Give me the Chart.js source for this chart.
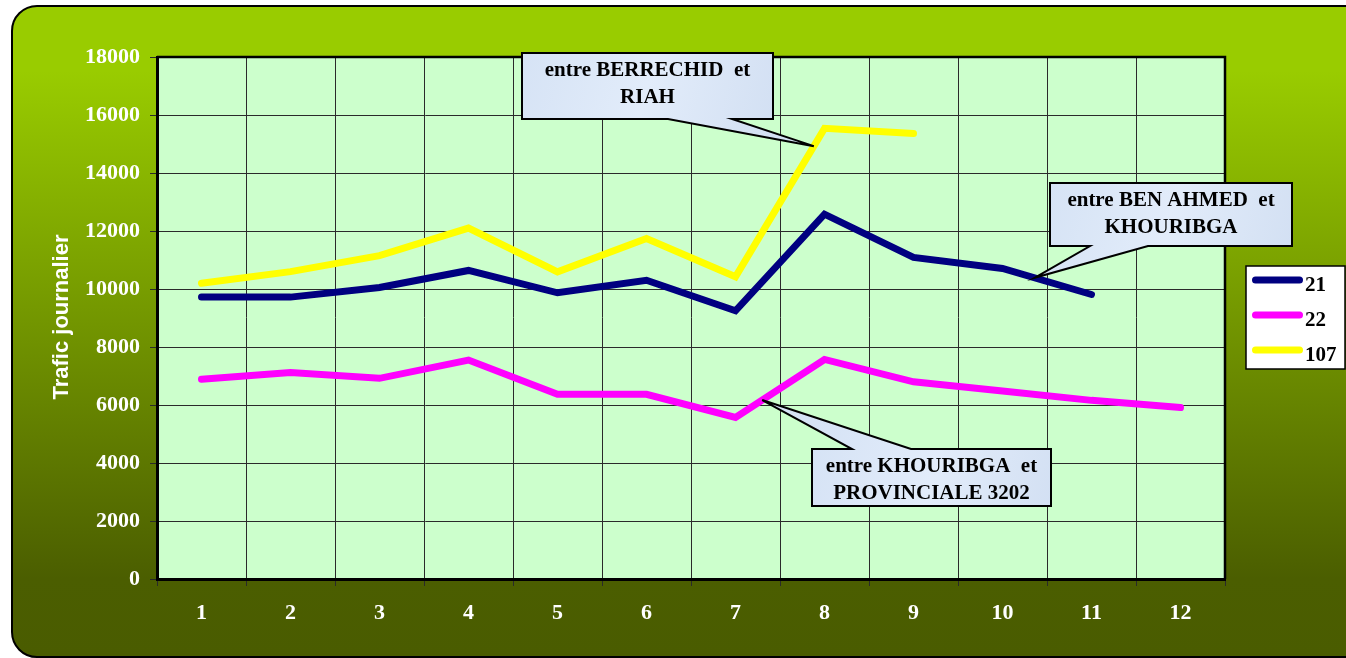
<!DOCTYPE html>
<html>
<head>
<meta charset="utf-8">
<title>Trafic journalier</title>
<script src="https://cdn.jsdelivr.net/npm/chart.js@4.4.0/dist/chart.umd.min.js"></script>
<style>
  html, body { margin: 0; padding: 0; background: #fff; }
  #wrap { width: 1346px; height: 658px; position: relative; }
</style>
</head>
<body>
<div id="wrap"><canvas id="trafic"></canvas></div>
<script>
// ---------- Data ----------
const months = ['1', '2', '3', '4', '5', '6', '7', '8', '9', '10', '11', '12'];
const route21 = [9720, 9720, 10050, 10640, 9870, 10300, 9250, 12580, 11090, 10710, 9810, null];
const route22 = [6890, 7120, 6920, 7550, 6370, 6370, 5570, 7570, 6800, 6480, 6160, 5910];
const route107 = [10200, 10600, 11150, 12100, 10590, 11740, 10420, 15540, 15360, null, null, null];
const seriesNames = ['21', '22', '107'];
const seriesColors = ['#000080', '#ff00ff', '#ffff00'];

// callouts: text lines, box [x, y, w, h], tail base on box edge, anchor on a series segment
const callouts = [
  { lines: ['entre BERRECHID  et', 'RIAH'], box: [522, 53, 251, 66], side: 'bottom', base: [668, 732], ds: 2, i: 6, t: 0.88 },
  { lines: ['entre BEN AHMED  et', 'KHOURIBGA'], box: [1050, 183, 242, 63], side: 'bottom', base: [1090, 1148], ds: 0, i: 9, t: 0.36 },
  { lines: ['entre KHOURIBGA  et', 'PROVINCIALE 3202'], box: [812, 449, 239, 57], side: 'top', base: [852, 911], ds: 1, i: 6, t: 0.3 },
];

const SERIF = '"Liberation Serif", "Times New Roman", serif';
const SANS = '"Liberation Sans", Arial, sans-serif';

// ---------- Plugins ----------
const backdrop = {
  id: 'backdrop',
  beforeDraw(chart) {
    const { ctx, chartArea: a } = chart;
    ctx.save();
    const g = ctx.createLinearGradient(0, 6, 0, 657);
    g.addColorStop(0, '#99cc00');
    g.addColorStop(0.1, '#99cc00');
    g.addColorStop(0.88, '#4b5e00');
    g.addColorStop(1, '#4a5c00');
    ctx.beginPath();
    ctx.roundRect(12, 6, 1380, 651, 25);
    ctx.fillStyle = g;
    ctx.fill();
    ctx.lineWidth = 2;
    ctx.strokeStyle = '#000';
    ctx.stroke();
    // plot area
    ctx.fillStyle = '#ccffcc';
    ctx.fillRect(a.left, a.top, a.right - a.left, a.bottom - a.top);
    ctx.restore();
  },
};

function pointOn(chart, ds, i, t) {
  const pts = chart.getDatasetMeta(ds).data;
  const p = pts[i], q = pts[i + 1];
  return [p.x + (q.x - p.x) * t, p.y + (q.y - p.y) * t];
}

const extras = {
  id: 'extras',
  afterDraw(chart) {
    const { ctx, chartArea: a } = chart;
    ctx.save();

    // frame on top and right
    ctx.strokeStyle = '#000';
    ctx.lineWidth = 2.5;
    ctx.beginPath();
    ctx.moveTo(a.left, a.top);
    ctx.lineTo(a.right, a.top);
    ctx.lineTo(a.right, a.bottom);
    ctx.stroke();

    // y axis title
    ctx.save();
    ctx.translate(62, 317);
    ctx.rotate(-Math.PI / 2);
    ctx.font = 'bold 22px ' + SANS;
    ctx.fillStyle = '#fff';
    ctx.textAlign = 'center';
    ctx.textBaseline = 'middle';
    ctx.fillText('Trafic journalier', 0, 0);
    ctx.restore();

    // callouts
    callouts.forEach((c) => {
      const [x, y, w, h] = c.box;
      const [tx, ty] = pointOn(chart, c.ds, c.i, c.t);
      ctx.beginPath();
      if (c.side === 'bottom') {
        ctx.moveTo(x, y);
        ctx.lineTo(x + w, y);
        ctx.lineTo(x + w, y + h);
        ctx.lineTo(c.base[1], y + h);
        ctx.lineTo(tx, ty);
        ctx.lineTo(c.base[0], y + h);
        ctx.lineTo(x, y + h);
      } else {
        ctx.moveTo(x, y);
        ctx.lineTo(c.base[0], y);
        ctx.lineTo(tx, ty);
        ctx.lineTo(c.base[1], y);
        ctx.lineTo(x + w, y);
        ctx.lineTo(x + w, y + h);
        ctx.lineTo(x, y + h);
      }
      ctx.closePath();
      const g = ctx.createLinearGradient(x, y, x + w, y + h);
      g.addColorStop(0, '#d6e3f5');
      g.addColorStop(0.5, '#e2ecfa');
      g.addColorStop(1, '#d3e0f3');
      ctx.fillStyle = g;
      ctx.fill();
      ctx.lineWidth = 2;
      ctx.lineJoin = 'miter';
      ctx.strokeStyle = '#000';
      ctx.stroke();
      ctx.fillStyle = '#000';
      ctx.font = 'bold 21px ' + SERIF;
      ctx.textAlign = 'center';
      ctx.textBaseline = 'alphabetic';
      c.lines.forEach((ln, k) => ctx.fillText(ln, x + w / 2, y + 23 + k * 27));
    });

    // legend
    ctx.fillStyle = '#fff';
    ctx.fillRect(1246, 266, 99, 103);
    ctx.lineWidth = 1.5;
    ctx.strokeStyle = '#000';
    ctx.strokeRect(1246, 266, 99, 103);
    chart.data.datasets.forEach((d, k) => {
      const ly = 280 + k * 35;
      ctx.beginPath();
      ctx.moveTo(1255.5, ly);
      ctx.lineTo(1299.5, ly);
      ctx.lineWidth = 7;
      ctx.lineCap = 'round';
      ctx.strokeStyle = d.borderColor;
      ctx.stroke();
      ctx.fillStyle = '#000';
      ctx.font = 'bold 21px ' + SERIF;
      ctx.textAlign = 'left';
      ctx.textBaseline = 'alphabetic';
      ctx.fillText(d.label, 1305, ly + 11);
    });
    ctx.restore();
  },
};

// ---------- Chart ----------
const datasets = [route21, route22, route107].map((vals, k) => ({
  label: seriesNames[k],
  data: vals,
  borderColor: seriesColors[k],
  backgroundColor: seriesColors[k],
  borderWidth: 7,
  borderCapStyle: 'round',
  borderJoinStyle: 'miter',
  pointRadius: 0,
  tension: 0,
  spanGaps: false,
}));

new Chart(document.getElementById('trafic'), {
  type: 'line',
  data: { labels: months, datasets },
  options: {
    responsive: true,
    maintainAspectRatio: false,
    animation: false,
    events: [],
    layout: { padding: { top: 57, right: 121, left: 0, bottom: 0 } },
    plugins: {
      legend: { display: false },
      tooltip: { enabled: false },
      title: { display: false },
    },
    scales: {
      x: {
        type: 'category',
        offset: true,
        grid: { offset: true, color: '#2a2a2a', lineWidth: 1, tickLength: 7, drawTicks: true },
        border: { display: true, color: '#000', width: 3 },
        ticks: { color: '#fff', font: { family: SERIF, size: 22, weight: 'bold' }, padding: 14, maxRotation: 0 },
        afterFit: (s) => { s.height = 79; },
      },
      y: {
        min: 0,
        max: 18000,
        grid: { color: '#2a2a2a', lineWidth: 1, tickLength: 7, drawTicks: true },
        border: { display: true, color: '#000', width: 3 },
        ticks: {
          stepSize: 2000,
          color: '#fff',
          font: { family: SERIF, size: 22, weight: 'bold' },
          padding: 10,
          callback: (v) => String(v),
        },
        afterFit: (s) => { s.width = 157; },
      },
    },
  },
  plugins: [backdrop, extras],
});
</script>
</body>
</html>
